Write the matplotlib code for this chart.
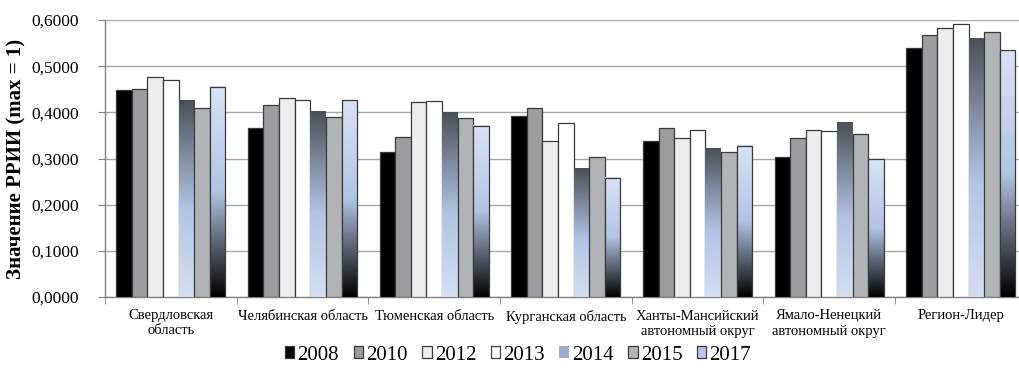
import numpy as np
import matplotlib
matplotlib.use("Agg")
import matplotlib.pyplot as plt
from matplotlib.colors import LinearSegmentedColormap
from matplotlib.patches import Rectangle

plt.rcParams['font.family'] = ['Liberation Serif', 'DejaVu Serif']

categories = ["Свердловская\nобласть", "Челябинская область", "Тюменская область",
              "Курганская область", "Ханты-Мансийский\nавтономный округ",
              "Ямало-Ненецкий\nавтономный округ", "Регион-Лидер"]
years = ["2008", "2010", "2012", "2013", "2014", "2015", "2017"]

v2008 = [0.449, 0.365, 0.313, 0.391, 0.337, 0.303, 0.540]
v2010 = [0.450, 0.415, 0.346, 0.410, 0.365, 0.344, 0.568]
v2012 = [0.476, 0.432, 0.422, 0.337, 0.344, 0.362, 0.583]
v2013 = [0.469, 0.427, 0.425, 0.376, 0.362, 0.360, 0.591]
v2014 = [0.425, 0.401, 0.399, 0.279, 0.321, 0.377, 0.561]
v2015 = [0.410, 0.390, 0.387, 0.304, 0.314, 0.353, 0.575]
v2017 = [0.455, 0.426, 0.371, 0.258, 0.328, 0.298, 0.534]
series = [v2008, v2010, v2012, v2013, v2014, v2015, v2017]

yticks = [0.0, 0.1, 0.2, 0.3, 0.4, 0.5, 0.6]
ytick_labels = ["0,0000", "0,1000", "0,2000", "0,3000", "0,4000", "0,5000", "0,6000"]

solid_colors = {0: "#000000", 1: "#9b9da1", 2: "#eceeed", 3: "#ffffff", 5: "#b1b3b6"}
cmap2014 = LinearSegmentedColormap.from_list("g14", [(0, "#d3def1"), (0.45, "#b2c4e4"), (1, "#4b5058")])
cmap2017 = LinearSegmentedColormap.from_list("g17", [(0, "#000000"), (0.5, "#b2c4e4"), (1, "#d8e2f4")])
edge = "#3a3a3a"

fig = plt.figure(figsize=(10.19, 3.70), dpi=100)
ax = fig.add_axes([105 / 1019, 73 / 370, (1026.7 - 105) / 1019, 277 / 370])

n = len(series)
bw = 0.1185
x = np.arange(len(categories))
grad = np.linspace(0, 1, 256).reshape(-1, 1)

legend_handles = []
for i, vals in enumerate(series):
    pos = x + (i - (n - 1) / 2) * bw
    if i in solid_colors:
        bars = ax.bar(pos, vals, bw, color=solid_colors[i], edgecolor=edge, linewidth=0.9, zorder=3)
        legend_handles.append(bars)
    else:
        cmap = cmap2014 if i == 4 else cmap2017
        bars = ax.bar(pos, vals, bw, color="none", edgecolor=(edge if i == 6 else "none"),
                      linewidth=0.9, zorder=4)
        for b in bars:
            x0, w, h = b.get_x(), b.get_width(), b.get_height()
            ax.imshow(grad, extent=[x0, x0 + w, 0, h], origin="lower", aspect="auto",
                      cmap=cmap, zorder=3, interpolation="bilinear")
        legend_handles.append(Rectangle((0, 0), 1, 1, facecolor=cmap(0.55),
                                        edgecolor=(edge if i == 6 else "none"), linewidth=0.9))

ax.set_xlim(-0.5, len(categories) - 0.5)
ax.set_ylim(0, 0.6)
ax.set_yticks(yticks)
ax.set_yticklabels(ytick_labels, fontsize=12.5)
ax.yaxis.grid(True, color="#a6a6a6", linewidth=1.0, zorder=0)
ax.set_axisbelow(True)

ax.set_xticks(x)
ax.set_xticklabels(categories, fontsize=10.5, linespacing=1.2)
ax.tick_params(axis="x", which="major", length=0, pad=9)
ax.set_xticks(np.arange(-0.5, len(categories), 1.0), minor=True)
ax.tick_params(axis="x", which="minor", length=5, color="#808080", direction="out")
ax.tick_params(axis="y", length=5, color="#808080", direction="out", pad=14)

for s in ["top", "right"]:
    ax.spines[s].set_visible(False)
for s in ["left", "bottom"]:
    ax.spines[s].set_color("#808080")
    ax.spines[s].set_linewidth(1.0)

ax.set_ylabel("Значение РРИИ (max = 1)", fontsize=15, fontweight="bold", labelpad=3)

leg = fig.legend(legend_handles, years, loc="center", bbox_to_anchor=(518 / 1019, 1 - 355 / 370),
                 ncol=7, frameon=False, fontsize=15, handlelength=0.45, handleheight=0.45,
                 handletextpad=0.15, columnspacing=0.7, borderaxespad=0)

fig.savefig("out.png", dpi=100)
